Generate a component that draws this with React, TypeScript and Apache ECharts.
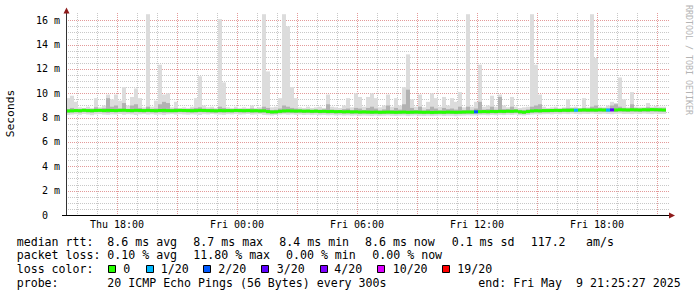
import { useEffect, useRef } from 'react';
import * as echarts from 'echarts';

// time axis: hours since Thu 00:00
const startHour = 15.45;
const endAxisHour = 45.6;
const stepHours = 0.2;

const smokeHi = [
  9.6, 9.8, 9.3, 8.85, 8.8, 8.9, 8.8, 9.6, 8.85, 9.0,
  9.9, 9.5, 9.9, 9.4, 10.5, 9.0, 9.7, 10.4, 9.6, 8.85,
  16.5, 8.9, 9.4, 12.35, 9.9, 10.0, 8.85, 9.3, 8.8, 8.85,
  8.8, 8.9, 9.6, 11.4, 9.0, 8.85, 8.9, 8.8, 16.1, 10.9,
  8.85, 8.8, 8.9, 8.8, 8.85, 8.8, 9.0, 8.8, 8.85, 16.5,
  11.8, 8.85, 8.9, 9.6, 16.5, 15.5, 10.5, 9.6, 8.85, 8.8,
  8.9, 8.8, 8.85, 8.9, 8.8, 9.9, 8.9, 8.85, 8.8, 9.0,
  9.6, 8.85, 10.0, 9.7, 8.9, 9.7, 10.0, 9.6, 8.85, 9.0,
  9.9, 8.9, 9.6, 9.0, 10.5, 13.2, 9.5, 8.9, 9.9, 8.85,
  9.3, 10.0, 9.6, 8.9, 9.7, 9.0, 9.6, 9.3, 10.1, 8.85,
  16.5, 8.9, 9.3, 12.35, 8.9, 9.0, 9.8, 8.9, 9.9, 9.0,
  8.85, 9.7, 8.9, 8.8, 8.85, 8.9, 16.5, 12.35, 9.9, 8.9,
  8.8, 8.85, 8.9, 8.8, 8.85, 9.5, 8.85, 8.9, 8.8, 9.6,
  8.85, 16.5, 12.9, 8.9, 8.85, 9.0, 9.3, 9.2, 11.3, 9.5,
  8.85, 10.1, 8.9, 8.85, 8.85, 9.2, 8.9, 8.95, 8.9, 8.9,
];

const darkTop = [
  8.70, 8.80, 8.72, 8.70, 8.74, 8.72, 8.70, 8.85, 8.72, 8.78,
  9.60, 8.90, 9.00, 8.75, 9.20, 8.72, 9.00, 9.10, 8.80, 8.72,
  8.90, 8.72, 8.75, 9.10, 9.30, 9.20, 8.72, 8.78, 8.70, 8.72,
  8.70, 8.74, 8.80, 8.85, 8.75, 8.72, 8.74, 8.70, 8.90, 8.80,
  8.72, 8.70, 8.74, 8.70, 8.72, 8.70, 8.76, 8.70, 8.72, 8.90,
  8.80, 8.62, 8.65, 8.75, 9.00, 8.90, 8.80, 8.75, 8.68, 8.66,
  8.66, 8.64, 8.68, 8.65, 8.68, 9.10, 8.66, 8.64, 8.62, 8.70,
  8.75, 8.62, 8.80, 8.75, 8.62, 8.80, 8.90, 8.75, 8.60, 8.68,
  9.00, 8.62, 8.80, 8.66, 9.10, 10.30, 8.80, 8.62, 8.90, 8.60,
  8.70, 8.90, 8.75, 8.60, 8.80, 8.70, 8.75, 8.66, 8.90, 8.62,
  8.90, 8.64, 8.75, 9.30, 8.66, 8.70, 8.90, 8.66, 9.70, 8.70,
  8.70, 8.90, 8.70, 8.64, 8.62, 8.68, 8.90, 9.00, 9.10, 8.72,
  8.72, 8.72, 8.74, 8.72, 8.75, 8.80, 8.76, 8.76, 8.74, 8.80,
  8.76, 8.90, 9.00, 8.78, 8.76, 8.78, 9.00, 9.10, 8.90, 8.80,
  8.76, 9.10, 8.78, 8.76, 8.78, 8.85, 8.78, 8.80, 8.78, 8.76,
];

const medianRtt = [
  8.55, 8.56, 8.58, 8.57, 8.60, 8.58, 8.57, 8.59, 8.60, 8.58,
  8.60, 8.59, 8.58, 8.60, 8.61, 8.59, 8.58, 8.60, 8.59, 8.58,
  8.60, 8.58, 8.57, 8.59, 8.60, 8.58, 8.57, 8.58, 8.60, 8.59,
  8.58, 8.57, 8.58, 8.60, 8.59, 8.58, 8.57, 8.56, 8.58, 8.57,
  8.58, 8.57, 8.59, 8.58, 8.57, 8.58, 8.56, 8.57, 8.55, 8.56,
  8.50, 8.47, 8.48, 8.52, 8.55, 8.56, 8.55, 8.54, 8.55, 8.53,
  8.54, 8.52, 8.53, 8.51, 8.52, 8.50, 8.51, 8.49, 8.50, 8.48,
  8.49, 8.47, 8.48, 8.46, 8.47, 8.46, 8.45, 8.46, 8.44, 8.45,
  8.46, 8.45, 8.44, 8.45, 8.46, 8.44, 8.45, 8.46, 8.45, 8.44,
  8.45, 8.43, 8.44, 8.45, 8.44, 8.46, 8.45, 8.44, 8.45, 8.46,
  8.47, 8.46, 8.48, 8.49, 8.50, 8.49, 8.51, 8.50, 8.52, 8.51,
  8.53, 8.52, 8.54, 8.48, 8.45, 8.50, 8.55, 8.57, 8.56, 8.58,
  8.58, 8.59, 8.60, 8.59, 8.61, 8.60, 8.62, 8.61, 8.62, 8.63,
  8.62, 8.63, 8.62, 8.64, 8.63, 8.62, 8.64, 8.63, 8.65, 8.64,
  8.63, 8.65, 8.64, 8.63, 8.65, 8.64, 8.66, 8.65, 8.64, 8.63,
];

const darkLow = [
  8.42, 8.44, 8.45, 8.43, 8.46, 8.44, 8.42, 8.45, 8.46, 8.44,
  8.40, 8.45, 8.44, 8.46, 8.45, 8.44, 8.43, 8.45, 8.44, 8.43,
  8.45, 8.44, 8.42, 8.44, 8.40, 8.43, 8.44, 8.43, 8.45, 8.44,
  8.43, 8.42, 8.43, 8.45, 8.44, 8.43, 8.42, 8.41, 8.43, 8.42,
  8.43, 8.42, 8.44, 8.43, 8.42, 8.43, 8.41, 8.42, 8.40, 8.41,
  8.35, 8.32, 8.33, 8.37, 8.40, 8.41, 8.40, 8.39, 8.40, 8.38,
  8.39, 8.37, 8.38, 8.36, 8.37, 8.35, 8.36, 8.34, 8.35, 8.33,
  8.34, 8.32, 8.33, 8.31, 8.32, 8.31, 8.30, 8.31, 8.29, 8.30,
  8.31, 8.30, 8.29, 8.30, 8.31, 8.29, 8.30, 8.31, 8.30, 8.29,
  8.30, 8.28, 8.29, 8.30, 8.29, 8.31, 8.30, 8.29, 8.30, 8.31,
  8.32, 8.31, 8.33, 8.34, 8.35, 8.34, 8.36, 8.35, 8.37, 8.36,
  8.38, 8.37, 8.39, 8.33, 8.30, 8.36, 8.40, 8.42, 8.41, 8.43,
  8.43, 8.44, 8.45, 8.44, 8.46, 8.45, 8.47, 8.46, 8.47, 8.48,
  8.47, 8.48, 8.47, 8.49, 8.48, 8.47, 8.49, 8.48, 8.50, 8.49,
  8.48, 8.50, 8.49, 8.48, 8.50, 8.49, 8.51, 8.50, 8.49, 8.48,
];

const smokeLo = [
  8.22, 8.25, 8.28, 8.24, 8.30, 8.26, 8.20, 8.27, 8.29, 8.25,
  8.23, 8.27, 8.26, 8.30, 8.24, 8.28, 8.26, 8.22, 8.27, 8.29,
  8.25, 8.28, 8.24, 8.26, 8.21, 8.27, 8.29, 8.25, 8.28, 8.26,
  8.24, 8.27, 8.25, 8.22, 8.28, 8.26, 8.30, 8.27, 8.25, 8.23,
  8.28, 8.26, 8.29, 8.25, 8.27, 8.30, 8.24, 8.26, 8.28, 8.22,
  8.20, 8.18, 8.22, 8.25, 8.27, 8.24, 8.26, 8.23, 8.25, 8.22,
  8.24, 8.21, 8.23, 8.20, 8.22, 8.19, 8.21, 8.18, 8.20, 8.17,
  8.19, 8.16, 8.18, 8.15, 8.17, 8.16, 8.14, 8.17, 8.15, 8.16,
  8.18, 8.15, 8.14, 8.16, 8.17, 8.13, 8.16, 8.18, 8.15, 8.14,
  8.16, 8.13, 8.15, 8.17, 8.14, 8.16, 8.15, 8.12, 8.16, 8.17,
  8.19, 8.17, 8.18, 8.20, 8.21, 8.19, 8.22, 8.20, 8.23, 8.21,
  8.24, 8.22, 8.25, 8.20, 8.18, 8.22, 8.25, 8.27, 8.26, 8.28,
  8.29, 8.27, 8.30, 8.28, 8.31, 8.29, 8.32, 8.30, 8.28, 8.31,
  8.30, 8.33, 8.31, 8.29, 8.32, 8.30, 8.28, 8.31, 8.33, 8.30,
  8.31, 8.29, 8.32, 8.30, 8.33, 8.31, 8.29, 8.32, 8.30, 8.31,
];

// lost pings out of 20, per bin
const lossCount = [
  0, 0, 0, 0, 0, 0, 0, 0, 0, 0,
  0, 0, 0, 0, 0, 0, 0, 0, 0, 0,
  0, 0, 0, 0, 0, 0, 0, 0, 0, 0,
  0, 0, 0, 0, 0, 0, 0, 0, 0, 0,
  0, 0, 0, 0, 0, 0, 0, 0, 0, 0,
  0, 0, 0, 0, 0, 0, 0, 0, 0, 0,
  0, 0, 0, 0, 0, 0, 0, 0, 0, 0,
  0, 0, 0, 0, 0, 0, 0, 0, 0, 0,
  0, 0, 0, 0, 0, 0, 0, 0, 0, 0,
  0, 0, 0, 0, 0, 0, 0, 0, 0, 0,
  0, 0, 2, 0, 0, 0, 0, 0, 0, 0,
  0, 0, 0, 0, 0, 0, 0, 0, 0, 0,
  0, 0, 0, 0, 0, 0, 0, 1, 0, 0,
  0, 0, 0, 0, 0, 1, 3, 0, 0, 0,
  0, 0, 0, 0, 0, 0, 0, 0, 0, 0,
];

const xTickHours = [18, 24, 30, 36, 42];
const xTickLabels = ['Thu 18:00', 'Fri 00:00', 'Fri 06:00', 'Fri 12:00', 'Fri 18:00'];
const gridHours = [16, 17, 18, 19, 20, 21, 22, 23, 24, 25, 26, 27, 28, 29, 30, 31, 32, 33, 34, 35, 36, 37, 38, 39, 40, 41, 42, 43, 44, 45];
const gridMs = [0.5, 1, 1.5, 2, 2.5, 3, 3.5, 4, 4.5, 5, 5.5, 6, 6.5, 7, 7.5, 8, 8.5, 9, 9.5, 10, 10.5, 11, 11.5, 12, 12.5, 13, 13.5, 14, 14.5, 15, 15.5, 16];
const yMax = 16.6;

const lossLevels = ['0', '1/20', '2/20', '3/20', '4/20', '10/20', '19/20'];
const lossColors = ['#26ff00', '#00b8ff', '#0059ff', '#5e00ff', '#7e00ff', '#dd00ff', '#ff0000'];
const rttStats = ['8.6 ms avg', '8.7 ms max', '8.4 ms min', '8.6 ms now', '0.1 ms sd', '117.2', 'am/s'];
const lossStats = ['0.10 % avg', '11.80 % max', '0.00 % min', '0.00 % now'];
const rowTitles = ['median rtt:', 'packet loss:', 'loss color:', 'probe:'];
const probeText = '20 ICMP Echo Pings (56 Bytes) every 300s';
const endText = 'end: Fri May \u00a09 21:25:27 2025';
const yAxisTitle = 'Seconds';
const watermark = 'RRDTOOL / TOBI OETIKER';

const MONO = '"DejaVu Sans Mono", monospace';

function lossColorOf(n: number): string {
  if (n <= 0) return lossColors[0];
  if (n === 1) return lossColors[1];
  if (n === 2) return lossColors[2];
  if (n === 3) return lossColors[3];
  if (n < 10) return lossColors[4];
  if (n < 19) return lossColors[5];
  return lossColors[6];
}

export default function App() {
  const ref = useRef<HTMLDivElement>(null);

  useEffect(() => {
    if (!ref.current) return;
    const chart = echarts.init(ref.current, null, { renderer: 'svg' });

    const smokeData = smokeHi.map((hi, i) => [
      startHour + i * stepHours,
      startHour + (i + 1) * stepHours,
      smokeLo[i],
      darkLow[i],
      medianRtt[i],
      darkTop[i],
      hi,
      lossCount[i],
    ]);

    const legFont = 11.6;
    const txt = (text: string, x: number, y: number, extra: any = {}) => ({
      type: 'text',
      x,
      y,
      silent: true,
      style: {
        text,
        fill: '#000',
        fontFamily: MONO,
        fontSize: legFont,
        align: 'left',
        verticalAlign: 'middle',
        ...extra,
      },
    });

    const rowY = [241.7, 255, 269, 282.7];
    const rttX = [107.3, 193.3, 279.3, 365, 451.7, 530.7, 586];
    const lossX = [107.3, 193.3, 286, 372.3];
    const boxX = [108, 146, 203, 261, 320, 377, 442];
    const boxLabelX = [123.3, 160.7, 218.3, 276.7, 334.3, 392.7, 457.3];

    const graphics: any[] = [];
    rowTitles.forEach((t, r) => graphics.push(txt(t, 16.7, rowY[r])));
    rttStats.forEach((t, k) => graphics.push(txt(t, rttX[k], rowY[0])));
    lossStats.forEach((t, k) => graphics.push(txt(t, lossX[k], rowY[1])));
    lossLevels.forEach((t, k) => {
      graphics.push({
        type: 'rect',
        silent: true,
        shape: { x: boxX[k] + 0.5, y: 265.5, width: 7, height: 7 },
        style: { fill: lossColors[k], stroke: '#000', lineWidth: 1 },
      });
      graphics.push(txt(t, boxLabelX[k], rowY[2]));
    });
    graphics.push(txt(probeText, 107.3, rowY[3]));
    graphics.push(txt(endText, 478.3, rowY[3]));
    graphics.push({
      type: 'text',
      x: 10.5,
      y: 113.5,
      rotation: Math.PI / 2,
      silent: true,
      style: { text: yAxisTitle, fill: '#000', fontFamily: MONO, fontSize: 11.3, align: 'center', verticalAlign: 'middle' },
    });
    graphics.push({
      type: 'text',
      x: 688.5,
      y: 60,
      rotation: -Math.PI / 2,
      silent: true,
      style: { text: watermark, fill: '#b4b4b4', fontFamily: MONO, fontSize: 8.3, align: 'center', verticalAlign: 'middle' },
    });
    graphics.push({
      type: 'polygon',
      silent: true,
      z: 100,
      shape: { points: [[66.5, 7.5], [63.5, 13.5], [69.5, 13.5]] },
      style: { fill: '#8e1b1b' },
    });
    graphics.push({
      type: 'polygon',
      silent: true,
      z: 100,
      shape: { points: [[675, 215.5], [669, 212.5], [669, 218.5]] },
      style: { fill: '#8e1b1b' },
    });
    graphics.push({
      type: 'line',
      silent: true,
      z: 100,
      shape: { x1: 62, y1: 215.5, x2: 67, y2: 215.5 },
      style: { stroke: '#000', lineWidth: 1 },
    });

    const option: any = {
      animation: false,
      backgroundColor: '#ffffff',
      grid: { left: 66, right: 28, top: 13, bottom: 82, containLabel: false },
      xAxis: {
        type: 'value',
        min: startHour,
        max: endAxisHour,
        z: 10,
        axisLine: { show: true, lineStyle: { color: '#000', width: 1 } },
        axisTick: { show: false },
        axisLabel: { show: false },
        splitLine: { show: false },
      },
      yAxis: {
        type: 'value',
        min: 0,
        max: yMax,
        interval: 2,
        z: 10,
        axisLine: { show: true, lineStyle: { color: '#333', width: 1 } },
        axisTick: { show: false },
        splitLine: { show: false },
        axisLabel: {
          margin: 6,
          color: '#000',
          fontFamily: MONO,
          fontSize: 10,
          showMaxLabel: false,
          formatter: (v: number) => {
            if (Math.abs(v - Math.round(v / 2) * 2) > 1e-6) return '';
            return v === 0 ? '0\u00a0\u00a0' : `${v} m`;
          },
        },
      },
      graphic: graphics,
      series: [
        {
          type: 'custom',
          z: 1,
          silent: true,
          clip: true,
          data: gridHours.map((h) => [h]),
          encode: { x: 0 },
          renderItem: (params: any, api: any) => {
            const h = api.value(0);
            const p = api.coord([h, 0]);
            const cs = params.coordSys;
            const x = Math.round(p[0]) + 0.5;
            const major = Math.round(h) % 3 === 0;
            return {
              type: 'line',
              shape: { x1: x, y1: cs.y, x2: x, y2: cs.y + cs.height },
              style: { stroke: major ? '#e39a9a' : '#c8c8c8', lineWidth: 1, lineDash: [1, 1] },
            };
          },
        },
        {
          type: 'custom',
          z: 1,
          silent: true,
          clip: true,
          data: gridMs.map((v) => [startHour, v]),
          encode: { x: 0, y: 1 },
          renderItem: (params: any, api: any) => {
            const v = api.value(1);
            const p = api.coord([startHour, v]);
            const cs = params.coordSys;
            const y = Math.round(p[1]) + 0.5;
            const major = Math.abs(v - Math.round(v / 2) * 2) < 1e-6;
            return {
              type: 'line',
              shape: { x1: cs.x, y1: y, x2: cs.x + cs.width, y2: y },
              style: { stroke: major ? '#e39a9a' : '#c8c8c8', lineWidth: 1, lineDash: [1, 1] },
            };
          },
        },
        {
          type: 'custom',
          z: 2,
          silent: true,
          clip: true,
          data: smokeData,
          dimensions: ['t0', 't1', 'lo', 'dlo', 'med', 'dhi', 'hi', 'loss'],
          encode: { x: [0, 1], y: [2, 3, 4, 5, 6] },
          renderItem: (params: any, api: any) => {
            const t0 = api.value(0);
            const t1 = api.value(1);
            const pHi = api.coord([t0, api.value(6)]);
            const pLo = api.coord([t1, api.value(2)]);
            const pDt = api.coord([t0, api.value(5)]);
            const pDl = api.coord([t1, api.value(3)]);
            const pMed = api.coord([t0, api.value(4)]);
            const x0 = pHi[0];
            const w = pLo[0] - pHi[0];
            return {
              type: 'group',
              children: [
                { type: 'rect', shape: { x: x0, y: pHi[1], width: w, height: pLo[1] - pHi[1] }, style: { fill: '#dcdcdc' } },
                { type: 'rect', shape: { x: x0, y: pDt[1], width: w, height: pDl[1] - pDt[1] }, style: { fill: '#b2b2b2' } },
                { type: 'rect', shape: { x: x0, y: pMed[1] - 1.5, width: w, height: 3 }, style: { fill: lossColorOf(api.value(7)) } },
              ],
            };
          },
        },
        {
          type: 'custom',
          z: 3,
          silent: true,
          clip: false,
          data: xTickHours.map((h, k) => [h, k]),
          encode: { x: 0 },
          renderItem: (params: any, api: any) => {
            const p = api.coord([api.value(0), 0]);
            return {
              type: 'text',
              x: p[0],
              y: p[1] + 9.5,
              style: {
                text: xTickLabels[api.value(1)],
                fill: '#000',
                fontFamily: MONO,
                fontSize: 10,
                align: 'center',
                verticalAlign: 'middle',
              },
            };
          },
        },
      ],
    };

    chart.setOption(option);
    return () => chart.dispose();
  }, []);

  return <div ref={ref} style={{ position: 'absolute', left: 0, top: 0, width: 697, height: 297 }} />;
}
